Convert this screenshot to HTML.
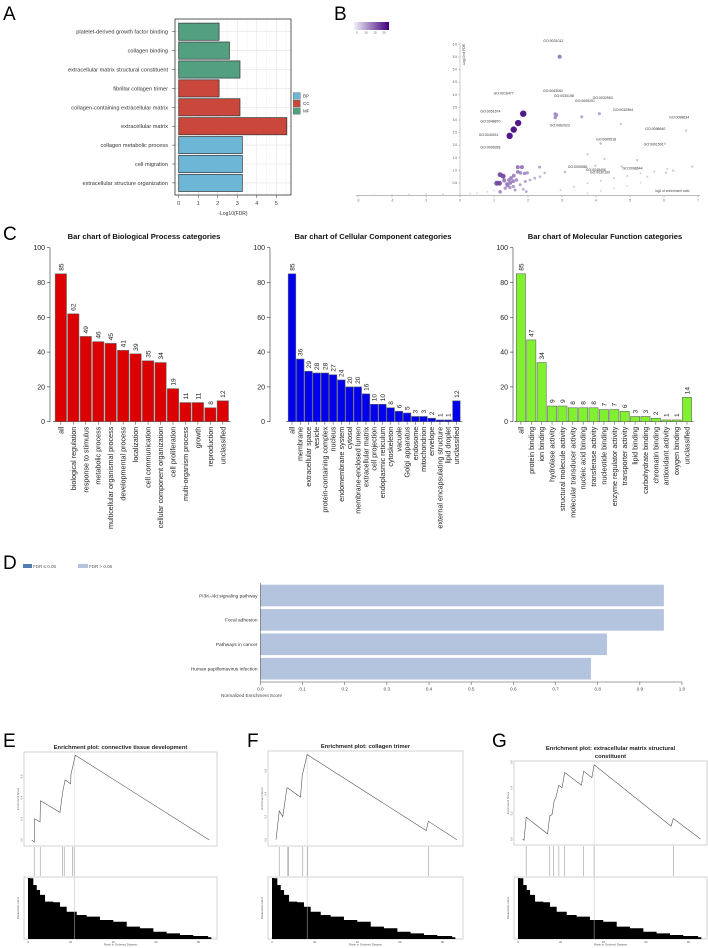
<!DOCTYPE html>
<html><head><meta charset="utf-8">
<style>
html,body{margin:0;padding:0;background:#fff;}
svg{display:block;font-family:"Liberation Sans",sans-serif;}
</style></head>
<body>
<svg id="fig" width="708" height="948" viewBox="0 0 708 948" xmlns="http://www.w3.org/2000/svg">
  <g font-size="19" fill="#000">
    <text x="3" y="20">A</text>
    <text x="334" y="20">B</text>
    <text x="3" y="240">C</text>
    <text x="3" y="569">D</text>
    <text x="3" y="747">E</text>
    <text x="247" y="747">F</text>
    <text x="492" y="747">G</text>
  </g>
  <text x="233" y="215" font-size="5" text-anchor="middle" fill="#333">-Log10(FDR)</text>
  <g font-size="4.5" fill="#333">
    <rect x="293.3" y="92.7" width="7" height="6.5" fill="#6db6d6" stroke="#555" stroke-width="0.4"/>
    <text x="303" y="97.7">BP</text>
    <rect x="293.3" y="100.2" width="7" height="6.5" fill="#c9483b" stroke="#555" stroke-width="0.4"/>
    <text x="303" y="105.2">CC</text>
    <rect x="293.3" y="107.7" width="7" height="6.5" fill="#52a080" stroke="#555" stroke-width="0.4"/>
    <text x="303" y="112.7">MF</text>
  </g>
  <g font-size="4.5" fill="#555">
    <rect x="23" y="564" width="9" height="4" fill="#4f7db0"/>
    <text x="33" y="568">FDR ≤ 0.05</text>
    <rect x="78" y="564" width="10" height="4" fill="#b4c3de"/>
    <text x="89" y="568">FDR &gt; 0.05</text>
  </g>
  <text x="221" y="697" font-size="4.6" fill="#444">Normalized Enrichment Score</text>
  <g>
    <defs><linearGradient id="cb" x1="0" x2="1"><stop offset="0" stop-color="#f2f0f7"/><stop offset="1" stop-color="#3f007d"/></linearGradient></defs>
    <rect x="354" y="22" width="35" height="8" fill="url(#cb)"/>
    <g font-size="3" fill="#555" text-anchor="middle">
      <text x="357" y="33.5">5</text>
      <text x="366" y="33.5">10</text>
      <text x="375" y="33.5">15</text>
      <text x="384" y="33.5">20</text>
    </g>
  </g>
  <text x="655" y="192" font-size="3.3" fill="#444">log2 of enrichment ratio</text>
  <text transform="translate(465,44) rotate(-90)" font-size="3.3" fill="#444" text-anchor="end">-Log10 of FDR</text>
</svg>
<script>
const NS='http://www.w3.org/2000/svg';
const svg=document.getElementById('fig');
function mk(tag,attrs,parent){const e=document.createElementNS(NS,tag);for(const k in attrs)e.setAttribute(k,attrs[k]);(parent||svg).appendChild(e);return e;}

/* ---------- Panel A data ---------- */
const aCats=['platelet-derived growth factor binding','collagen binding','extracellular matrix structural constituent','fibrillar collagen trimer','collagen-containing extracellular matrix','extracellular matrix','collagen metabolic process','cell migration','extracellular structure organization'];
const aVals=[2.07,2.6,3.14,2.07,3.14,5.54,3.26,3.26,3.26];
const aOnt=['MF','MF','MF','CC','CC','CC','BP','BP','BP'];
const aTicks=[0,1,2,3,4,5];

/* ---------- Panel B data ---------- */
const bX=[2.93,1.86,1.71,1.58,1.46,2.8,2.84,2.8,3.58,4.1,4.73,6.65,6.03,4.14,3.75,4.25,5.21,4.76,3.98,3.09,2.34,6.27,6.83,6.06,
1.18,1.27,1.08,1.16,1.7,1.82,1.7,1.58,1.44,1.48,1.38,1.56,1.78,1.9,1.98,1.66,1.33,1.47,1.57,1.77,1.92,2.06,2.2,2.35,2.49,1.18,1.62,1.86,1.95,1.3,1.4,1.5,
2.96,3.35,3.75,4.14,4.53,4.92,5.31,5.71,6.1,3.75,4.14,4.53,4.92,5.31,5.51,
-2.5,-2,-1.5,-1,-0.5,0,0.3,0.5,0.8,1.0];
const bY=[5.51,3.25,2.88,2.62,2.37,3.24,3.2,3.1,3.13,3.25,2.84,2.58,2.06,2.07,1.64,1.46,1.41,1.15,1.19,0.94,1.13,0.99,1.15,0.91,
0.83,0.77,0.49,0.49,1.13,1.13,0.94,0.79,0.62,0.5,0.46,0.57,0.9,0.88,0.9,0.62,0.29,0.32,0.36,0.43,0.56,0.62,0.69,0.75,0.9,0.15,0.22,0.25,0.16,0.6,0.4,0.7,
0.22,0.35,0.49,0.59,0.69,0.78,0.88,0.95,1.06,0.09,0.19,0.29,0.39,0.51,0.75,
0.02,0.03,0.04,0.05,0.06,0.07,0.08,0.1,0.15,0.2];
const bN=[10,20,20,20,20,8,8,8,6,6,3,3,3,4,3,3,3,3,3,4,6,3,3,3,
14,14,14,14,10,10,9,9,9,9,9,9,8,8,7,8,7,7,7,6,6,5,5,4,4,8,6,5,5,10,9,9,
2,2,2,2,2,2,2,2,2,1,1,1,1,1,2,
1,1,1,1,1,1,1,1,1,1];
const bLabels=['GO:0031012','GO:0016477','GO:0043062','GO:0030198','GO:0005201','GO:0032963','GO:0032964','GO:0098634','GO:0051674','GO:0048870','GO:0040011','GO:0006928','GO:0062023','GO:0005518','GO:0098640','GO:0001501','GO:0005581','GO:0048406','GO:0030199','GO:0098644'];
const bLabX=[2.45,0.99,2.44,2.76,3.38,3.9,4.5,6.15,0.6,0.6,0.55,0.6,2.64,4.0,5.45,5.4,3.17,3.7,3.82,4.78];
const bLabY=[6.1,4.02,4.12,3.91,3.71,3.83,3.35,3.06,3.3,2.9,2.37,1.86,2.75,2.18,2.6,1.99,1.1,0.98,0.88,1.04];
const bXTicks=[-3,-2,-1,0,1,2,3,4,5,6,7];
const bYTicks=[0.5,1.0,1.5,2.0,2.5,3.0,3.5,4.0,4.5,5.0,5.5,6.0];

/* ---------- Panel C data ---------- */
const bpCats=['all','biological regulation','response to stimulus','metabolic process','multicellular organismal process','developmental process','localization','cell communication','cellular component organization','cell proliferation','multi-organism process','growth','reproduction','unclassified'];
const bpVals=[85,62,49,46,45,41,39,35,34,19,11,11,8,12];
const ccCats=['all','membrane','extracellular space','vesicle','protein-containing complex','nucleus','endomembrane system','cytosol','membrane-enclosed lumen','extracellular matrix','cell projection','endoplasmic reticulum','cytoskeleton','vacuole','Golgi apparatus','endosome','mitochondrion','envelope','external encapsulating structure','lipid droplet','unclassified'];
const ccVals=[85,36,29,28,28,27,24,20,20,16,10,10,8,6,5,3,3,2,1,1,12];
const mfCats=['all','protein binding','ion binding','hydrolase activity','structural molecule activity','molecular transducer activity','nucleic acid binding','transferase activity','nucleotide binding','enzyme regulator activity','transporter activity','lipid binding','carbohydrate binding','chromatin binding','antioxidant activity','oxygen binding','unclassified'];
const mfVals=[85,47,34,9,9,8,8,8,7,7,6,3,3,2,1,1,14];
const cTicks=[0,20,40,60,80,100];

/* ---------- Panel D data ---------- */
const dCats=['PI3K-Akt signaling pathway','Focal adhesion','Pathways in cancer','Human papillomavirus infection'];
const dVals=[0.957,0.957,0.822,0.784];
const dTicks=[0,0.1,0.2,0.3,0.4,0.5,0.6,0.7,0.8,0.9,1.0];

/* ---------- Panels E-G data ---------- */
const eRanks=[3.5,5.9,6.2,11.3,11.7,30,32.5,34.8,35,40,40.3,44.4,170];
const eES=[0,-0.02,0.2,0.17,0.37,0.26,0.45,0.565,0.565,0.53,0.62,0.80,0];
const eHits=[5.9,11.5,32.5,34,41.8,43.4];
const fRanks=[3.8,6.8,10.1,14,14.8,26.7,28.4,33,144.6,146.7,173.4];
const fES=[0,0.25,0.2,0.45,0.45,0.37,0.56,0.74,0.08,0.16,0];
const fHits=[6.8,14.8,15.6,28.8,33.5,146.8];
const gRanks=[4.3,5.6,7.7,27.7,29.8,31.9,34,35.4,38.3,41.3,43.8,59.5,61.6,69.3,71.4,143.6,145.7,171.2];
const gES=[0,-0.01,0.17,0.04,0.18,0.19,0.30,0.32,0.42,0.40,0.52,0.42,0.53,0.48,0.58,0.10,0.16,0];
const gHits=[7.7,29.8,33.2,38.3,43.8,61.6,71.4,145.7];
const metricRanks=[0,1.9,5,8.2,11.3,16,23.7,30,36.3,45.7,55,67.5,80,92.6,105,117.6,130,142.6,155,169,172];
const metricVals=[4.4,4.38,3.93,3.59,3.26,2.81,2.77,2.47,2.13,1.91,1.80,1.58,1.46,1.13,1.02,0.79,0.68,0.57,0.50,0.42,0.42];
const rankTicks=[0,40,80,120,160];
const rankTickLabels=['0','20','40','60','80'];

/* ================= Panel A ================= */
(function(){
  const g=mk('g',{});
  
  
  const ax=v=>178.7+v*19.52, ay=i=>31.7+i*18.9;
  const col={BP:'#6db6d6',CC:'#c9483b',MF:'#52a080'};
  const bg=mk('rect',{x:175,y:19,width:116,height:176,fill:'#fff'},g);
  
  
  for(let v=0;v<=5.5;v+=0.5){
    const l=mk('line',{x1:ax(v),x2:ax(v),y1:19,y2:195,stroke:v%1?'#f2f2f2':'#e3e3e3','stroke-width':0.6},g);
    
    
  }
  aCats.forEach((c,i)=>{
    const gl=mk('line',{x1:175,x2:291,y1:ay(i),y2:ay(i),stroke:'#e3e3e3','stroke-width':0.6},g);
    
    
    const r=mk('rect',{x:ax(0),y:ay(i)-8.6,width:ax(aVals[i])-ax(0),height:17.2,fill:col[aOnt[i]],stroke:'#333','stroke-width':0.7},g);
    
    
    const t=mk('text',{x:168,y:ay(i)+2,'font-size':5.6,'text-anchor':'end',fill:'#333'},g);
    t.textContent=c;
    
    
    const tk=mk('line',{x1:172,x2:175,y1:ay(i),y2:ay(i),stroke:'#333','stroke-width':0.5},g);
    
    
  });
  const fr=mk('rect',{x:175,y:19,width:116,height:176,fill:'none',stroke:'#333','stroke-width':0.8},g);
  
  
  aTicks.forEach(v=>{
    const tk=mk('line',{x1:ax(v),x2:ax(v),y1:195,y2:198,stroke:'#333','stroke-width':0.5},g);
    
    
    const t=mk('text',{x:ax(v),y:205,'font-size':5.6,'text-anchor':'middle',fill:'#444'},g);
    t.textContent=v;
    
    
  });
})();

/* ================= Panel B ================= */
(function(){
  const g=mk('g',{});
  
  
  const bx=v=>460+v*34, by=v=>195.6-v*25.2;
  const xa=mk('line',{x1:356,x2:700,y1:by(0),y2:by(0),stroke:'#777','stroke-width':0.5},g);
  
  
  const ya=mk('line',{x1:bx(0),x2:bx(0),y1:42,y2:by(0),stroke:'#999','stroke-width':0.5},g);
  
  
  bXTicks.forEach(v=>{
    const tk=mk('line',{x1:bx(v),x2:bx(v),y1:by(0),y2:by(0)+2,stroke:'#777','stroke-width':0.4},g);
    
    
    const t=mk('text',{x:bx(v),y:by(0)+6,'font-size':3.2,'text-anchor':'middle',fill:'#555'},g);
    t.textContent=v;
    
    
  });
  bYTicks.forEach(v=>{
    const tk=mk('line',{x1:bx(0)-2,x2:bx(0),y1:by(v),y2:by(v),stroke:'#999','stroke-width':0.4},g);
    
    
    const t=mk('text',{x:bx(0)-3,y:by(v)+1,'font-size':3.2,'text-anchor':'end',fill:'#555'},g);
    t.textContent=v.toFixed(1);
    
    
  });
  const lerp=(a,b,t)=>Math.round(a+(b-a)*t);
  const order=bX.map((_,i)=>i).sort((a,b)=>bN[a]-bN[b]);
  order.forEach(i=>{
    const t=Math.min(1,(bN[i]-1)/19);
    const c=`rgb(${lerp(214,63,t)},${lerp(210,0,t)},${lerp(234,125,t)})`;
    const p=mk('circle',{cx:bx(bX[i]),cy:by(bY[i]),r:0.8+bN[i]*0.12,fill:c,'fill-opacity':0.9},g);
    
    
  });
  bLabels.forEach((s,i)=>{
    const t=mk('text',{x:bx(bLabX[i]),y:by(bLabY[i]),'font-size':3.5,fill:'#333'},g);
    t.textContent=s;
    
    
  });
})();

/* ================= Panel C ================= */
function drawCategoryChart(name,title,cats,vals,color,axisX,x0,pitch,bw,tx){
  const g=mk('g',{});
  
  
  const cy=v=>421.7-v*1.74;
  const tt=mk('text',{x:tx,y:239,'font-size':7.6,'font-weight':'bold','text-anchor':'middle',fill:'#111'},g);
  tt.textContent=title;
  
  
  const al=mk('line',{x1:axisX,x2:axisX,y1:cy(0),y2:cy(100),stroke:'#333','stroke-width':0.6},g);
  
  
  cTicks.forEach(v=>{
    const tk=mk('line',{x1:axisX-3,x2:axisX,y1:cy(v),y2:cy(v),stroke:'#333','stroke-width':0.6},g);
    
    
    const t=mk('text',{x:axisX-5,y:cy(v)+2.5,'font-size':7,'text-anchor':'end',fill:'#222'},g);
    t.textContent=v;
    
    
  });
  const xl=mk('line',{x1:x0-2,x2:x0+pitch*(cats.length-1)+bw+2,y1:cy(0),y2:cy(0),stroke:'#333','stroke-width':0.6},g);
  
  
  cats.forEach((c,i)=>{
    const x=x0+i*pitch, cx=x+bw/2;
    const r=mk('rect',{x:x,y:cy(vals[i]),width:bw,height:cy(0)-cy(vals[i]),fill:color,stroke:'#666','stroke-width':0.6},g);
    
    
    const v=mk('text',{transform:`translate(${cx+2.4},${cy(vals[i])-3}) rotate(-90)`,'font-size':6.6,fill:'#222'},g);
    v.textContent=vals[i];
    
    
    const tk=mk('line',{x1:cx,x2:cx,y1:cy(0),y2:cy(0)+3,stroke:'#333','stroke-width':0.5},g);
    
    
    const t=mk('text',{transform:`translate(${cx+2.5},${cy(0)+5}) rotate(-90)`,'font-size':7.2,'text-anchor':'end',fill:'#222'},g);
    t.textContent=c;
    
    
  });
}
drawCategoryChart('bp-category-chart','Bar chart of Biological Process categories',bpCats,bpVals,'#dd0000',50,55.2,12.46,11.3,144);
drawCategoryChart('cc-category-chart','Bar chart of Cellular Component categories',ccCats,ccVals,'#0000ee',270,288.2,8.22,7.6,373);
drawCategoryChart('mf-category-chart','Bar chart of Molecular Function categories',mfCats,mfVals,'#80f030',513,516.3,10.38,9.2,605);

/* ================= Panel D ================= */
(function(){
  const g=mk('g',{});
  
  
  const dx=v=>260.4+v*421.6;
  const dyTop=584.7, dStep=24.4, dh=21.6;
  dCats.forEach((c,i)=>{
    const y=dyTop+i*dStep;
    const r=mk('rect',{x:dx(0),y:y,width:dx(dVals[i])-dx(0),height:dh,fill:'#b4c3de'},g);
    
    
    const t=mk('text',{x:257.5,y:y+dh/2+1.8,'font-size':4.8,'text-anchor':'end',fill:'#333'},g);
    t.textContent=c;
    
    
  });
  const ya=mk('line',{x1:dx(0),x2:dx(0),y1:583,y2:682,stroke:'#444','stroke-width':0.5},g);
  
  
  const xa=mk('line',{x1:dx(0),x2:dx(1),y1:682,y2:682,stroke:'#444','stroke-width':0.5},g);
  
  
  dTicks.forEach(v=>{
    const tk=mk('line',{x1:dx(v),x2:dx(v),y1:682,y2:685,stroke:'#444','stroke-width':0.5},g);
    
    
    const t=mk('text',{x:dx(v),y:690.5,'font-size':4.6,'text-anchor':'middle',fill:'#444'},g);
    t.textContent=v.toFixed(1);
    
    
  });
})();

/* ================= Panels E-G ================= */
function drawGsea(name,title,ranks,es,hits,boxX,boxTop,boxW,boxBot,y0,k,x0,peak,titleLines){
  const g=mk('g',{});
  
  
  const px=r=>x0+r*1.066, py=v=>y0-v*k;
  titleLines.forEach((s,i)=>{
    const t=mk('text',{x:boxX+boxW/2,y:titleLines.length>1?boxTop-11+i*8:boxTop-3,'font-size':5.8,'font-weight':'bold','text-anchor':'middle',fill:'#222'},g);
    t.textContent=s;
    
    
  });
  const fr=mk('rect',{x:boxX,y:boxTop,width:boxW,height:boxBot-boxTop,fill:'#fff',stroke:'#c8c8c8','stroke-width':0.8},g);
  
  
  const pl=mk('line',{x1:px(peak),x2:px(peak),y1:boxTop,y2:939,stroke:'#d8d8d8','stroke-width':0.6},g);
  
  
  const path=mk('polyline',{points:ranks.map((r,i)=>px(r)+','+py(es[i])).join(' '),fill:'none',stroke:'#555','stroke-width':0.6},g);
  
  
  [0,0.2,0.4,0.6].forEach(v=>{
    if(py(v)<boxTop)return;
    const t=mk('text',{transform:`translate(${boxX-1.5},${py(v)}) rotate(-90)`,'font-size':2.6,'text-anchor':'middle',fill:'#666'},g);
    t.textContent=v.toFixed(1);
    
    
  });
  const yl=mk('text',{transform:`translate(${boxX-5},${(boxTop+boxBot)/2}) rotate(-90)`,'font-size':2.8,'text-anchor':'middle',fill:'#555'},g);
  yl.textContent='Enrichment Score';
  
  
  hits.forEach(h=>{
    const l=mk('line',{x1:px(h),x2:px(h),y1:boxBot+1,y2:876,stroke:'#a8a8a8','stroke-width':0.7},g);
    
    
  });
  const bf=mk('rect',{x:boxX,y:877,width:boxW,height:62,fill:'#fff',stroke:'#c8c8c8','stroke-width':0.8},g);
  
  
  const my=v=>943.5-v*14.9;
  let pts=[px(metricRanks[0])+','+939];
  for(let i=0;i<metricRanks.length-1;i++){
    pts.push(px(metricRanks[i])+','+Math.max(878,my(metricVals[i])));
    pts.push(px(metricRanks[i+1])+','+Math.max(878,my(metricVals[i])));
  }
  pts.push(px(metricRanks[metricRanks.length-1])+','+939);
  const area=mk('polygon',{points:pts.join(' '),fill:'#000'},g);
  
  
  const pl2=mk('line',{x1:px(peak),x2:px(peak),y1:877,y2:939,stroke:'#bbb','stroke-width':0.5},g);
  
  
  const ml=mk('text',{transform:`translate(${boxX-5},908) rotate(-90)`,'font-size':2.8,'text-anchor':'middle',fill:'#555'},g);
  ml.textContent='Ranked list metric';
  
  
  rankTicks.forEach((r,i)=>{
    const t=mk('text',{x:px(r),y:943,'font-size':2.8,'text-anchor':'middle',fill:'#555'},g);
    t.textContent=rankTickLabels[i];
    
    
  });
  const xl=mk('text',{x:boxX+boxW/2,y:945.5,'font-size':3,'text-anchor':'middle',fill:'#555'},g);
  xl.textContent='Rank in Ordered Dataset';
  
  
}
drawGsea('panel-e-gsea','connective',eRanks,eES,eHits,24,752,193,846,840,106,28,43.4,['Enrichment plot: connective tissue development']);
drawGsea('panel-f-gsea','collagen',fRanks,fES,fHits,268,751,195,846,839.7,115,272,33,['Enrichment plot: collagen trimer']);
drawGsea('panel-g-gsea','ecm',gRanks,gES,gHits,514,761,193,845,839,128,518,71.4,['Enrichment plot: extracellular matrix structural','constituent']);
</script>
</body></html>
